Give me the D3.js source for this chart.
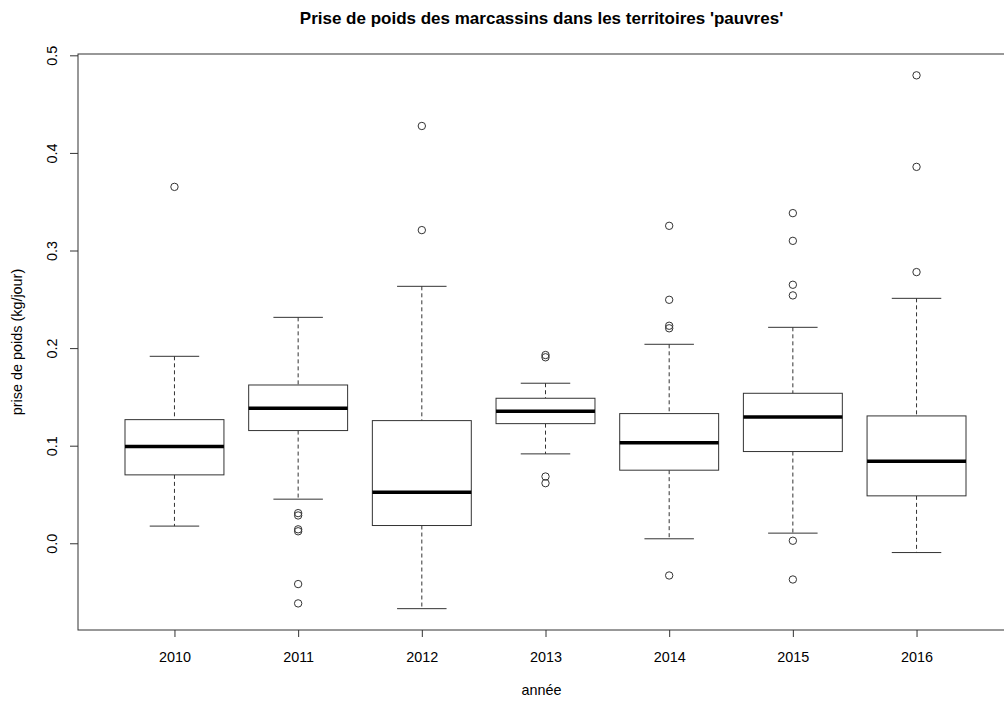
<!DOCTYPE html>
<html>
<head>
<meta charset="utf-8">
<script src="https://cdn.jsdelivr.net/npm/d3@7"></script>
<style>
    body { margin: 0; background: #fff; }
    svg { display: block; font-family: "Liberation Sans", Arial, sans-serif; }
    .cadre { fill: none; stroke: #333; stroke-width: 1; }
    .boite { fill: #fff; stroke: #333; stroke-width: 1; }
    .mediane { stroke: #000; stroke-width: 3.5; }
    .moustache { stroke: #333; stroke-dasharray: 4,3; }
    .butee { stroke: #333; }
    .atypique { fill: none; stroke: #333; stroke-width: 1; }
    .tick line { stroke: #333; }
</style>
</head>
<body>
<div id="graph"></div>
<script>
// Données (kg/jour)
const annees = ["2010", "2011", "2012", "2013", "2014", "2015", "2016"];
const basMoustache = [0.0176, 0.0452, -0.0670, 0.0916, 0.0046, 0.0104, -0.0095];
const quartile1 = [0.0701, 0.1155, 0.0182, 0.1226, 0.0749, 0.0940, 0.0486];
const mediane = [0.0991, 0.1384, 0.0524, 0.1353, 0.1029, 0.1295, 0.0840];
const quartile3 = [0.1267, 0.1622, 0.1257, 0.1486, 0.1329, 0.1537, 0.1305];
const hautMoustache = [0.1916, 0.2315, 0.2633, 0.1640, 0.2039, 0.2213, 0.2510];
const atypiques = [
    [0.3652],
    [0.0309, 0.0285, 0.0143, 0.0123, -0.0418, -0.0616],
    [0.3209, 0.4276],
    [0.1929, 0.1906, 0.0684, 0.0616],
    [0.3253, 0.2495, 0.2229, 0.2203, -0.0330],
    [0.3383, 0.3099, 0.2649, 0.2540, 0.0026, -0.0371],
    [0.2779, 0.3857, 0.4795]
];
const yTicks = [0.0, 0.1, 0.2, 0.3, 0.4, 0.5];

const width = 1004;
const height = 702;
const plot = { left: 78, right: 1013, top: 54, bottom: 630 };

const boites = annees.map((a, i) => ({
    annee: a, pos: i + 1,
    bas: basMoustache[i], q1: quartile1[i], med: mediane[i], q3: quartile3[i], haut: hautMoustache[i],
    out: atypiques[i]
}));

// Etendue comme R : min/max + 4%
const toutes = boites.flatMap(b => [b.bas, b.haut, ...b.out]);
const yMin = d3.min(toutes), yMax = d3.max(toutes);
const pad = (yMax - yMin) * 0.04;

const y = d3.scaleLinear()
    .domain([yMin - pad, yMax + pad])
    .range([plot.bottom, plot.top]);

const n = annees.length;
const x = d3.scaleLinear()
    .domain([0.5 - n * 0.04, n + 0.5 + n * 0.04])
    .range([plot.left, plot.right]);

const pas = x(2) - x(1);
const demiBoite = pas * 0.4;
const demiButee = demiBoite / 2;

const svg = d3.select("#graph").append("svg")
    .attr("width", width)
    .attr("height", height);

// Titre
svg.append("text")
    .attr("x", (plot.left + plot.right) / 2 - 4)
    .attr("y", 24)
    .attr("text-anchor", "middle")
    .attr("font-weight", "bold")
    .attr("font-size", "17px")
    .text("Prise de poids des marcassins dans les territoires 'pauvres'");

const g = svg.append("g");

const boite = g.selectAll("g.annee")
    .data(boites)
    .join("g")
    .attr("class", "annee");

// moustaches pointillées
boite.append("line")
    .attr("class", "moustache")
    .attr("x1", d => x(d.pos)).attr("x2", d => x(d.pos))
    .attr("y1", d => y(d.haut)).attr("y2", d => y(d.q3));
boite.append("line")
    .attr("class", "moustache")
    .attr("x1", d => x(d.pos)).attr("x2", d => x(d.pos))
    .attr("y1", d => y(d.q1)).attr("y2", d => y(d.bas));

// butées
boite.append("line")
    .attr("class", "butee")
    .attr("x1", d => x(d.pos) - demiButee).attr("x2", d => x(d.pos) + demiButee)
    .attr("y1", d => y(d.haut)).attr("y2", d => y(d.haut));
boite.append("line")
    .attr("class", "butee")
    .attr("x1", d => x(d.pos) - demiButee).attr("x2", d => x(d.pos) + demiButee)
    .attr("y1", d => y(d.bas)).attr("y2", d => y(d.bas));

// boîtes
boite.append("rect")
    .attr("class", "boite")
    .attr("x", d => x(d.pos) - demiBoite)
    .attr("width", demiBoite * 2)
    .attr("y", d => y(d.q3))
    .attr("height", d => y(d.q1) - y(d.q3));

boite.append("line")
    .attr("class", "mediane")
    .attr("x1", d => x(d.pos) - demiBoite).attr("x2", d => x(d.pos) + demiBoite)
    .attr("y1", d => y(d.med)).attr("y2", d => y(d.med));

// valeurs atypiques
boite.selectAll("circle")
    .data(d => d.out.map(v => ({ pos: d.pos, v: v })))
    .join("circle")
    .attr("class", "atypique")
    .attr("cx", d => x(d.pos))
    .attr("cy", d => y(d.v))
    .attr("r", 3.7);

// cadre
svg.append("rect")
    .attr("class", "cadre")
    .attr("x", plot.left)
    .attr("y", plot.top)
    .attr("width", plot.right - plot.left)
    .attr("height", plot.bottom - plot.top);

// axe x
const axeX = svg.append("g")
    .attr("transform", `translate(0,${plot.bottom})`)
    .call(d3.axisBottom(x).tickValues(d3.range(1, n + 1)).tickFormat(d => annees[d - 1]).tickSize(7).tickPadding(15));
axeX.select(".domain").remove();
axeX.selectAll("text").attr("font-size", "14.4px").attr("fill", "#000").attr("font-family", null);

// axe y
const axeY = svg.append("g")
    .attr("transform", `translate(${plot.left},0)`)
    .call(d3.axisLeft(y).tickValues(yTicks).tickFormat(d3.format(".1f")).tickSize(8));
axeY.select(".domain").remove();
axeY.selectAll("text")
    .attr("font-size", "14.4px")
    .attr("fill", "#000")
    .attr("font-family", null)
    .attr("text-anchor", "middle")
    .attr("x", null).attr("dy", null)
    .attr("transform", "translate(-21,0) rotate(-90)");

// titres des axes
svg.append("text")
    .attr("x", (plot.left + plot.right) / 2 - 4)
    .attr("y", 695)
    .attr("text-anchor", "middle")
    .attr("font-size", "14.4px")
    .text("année");

svg.append("text")
    .attr("transform", `translate(22,${(plot.top + plot.bottom) / 2}) rotate(-90)`)
    .attr("text-anchor", "middle")
    .attr("font-size", "14.4px")
    .text("prise de poids (kg/jour)");
</script>
</body>
</html>
